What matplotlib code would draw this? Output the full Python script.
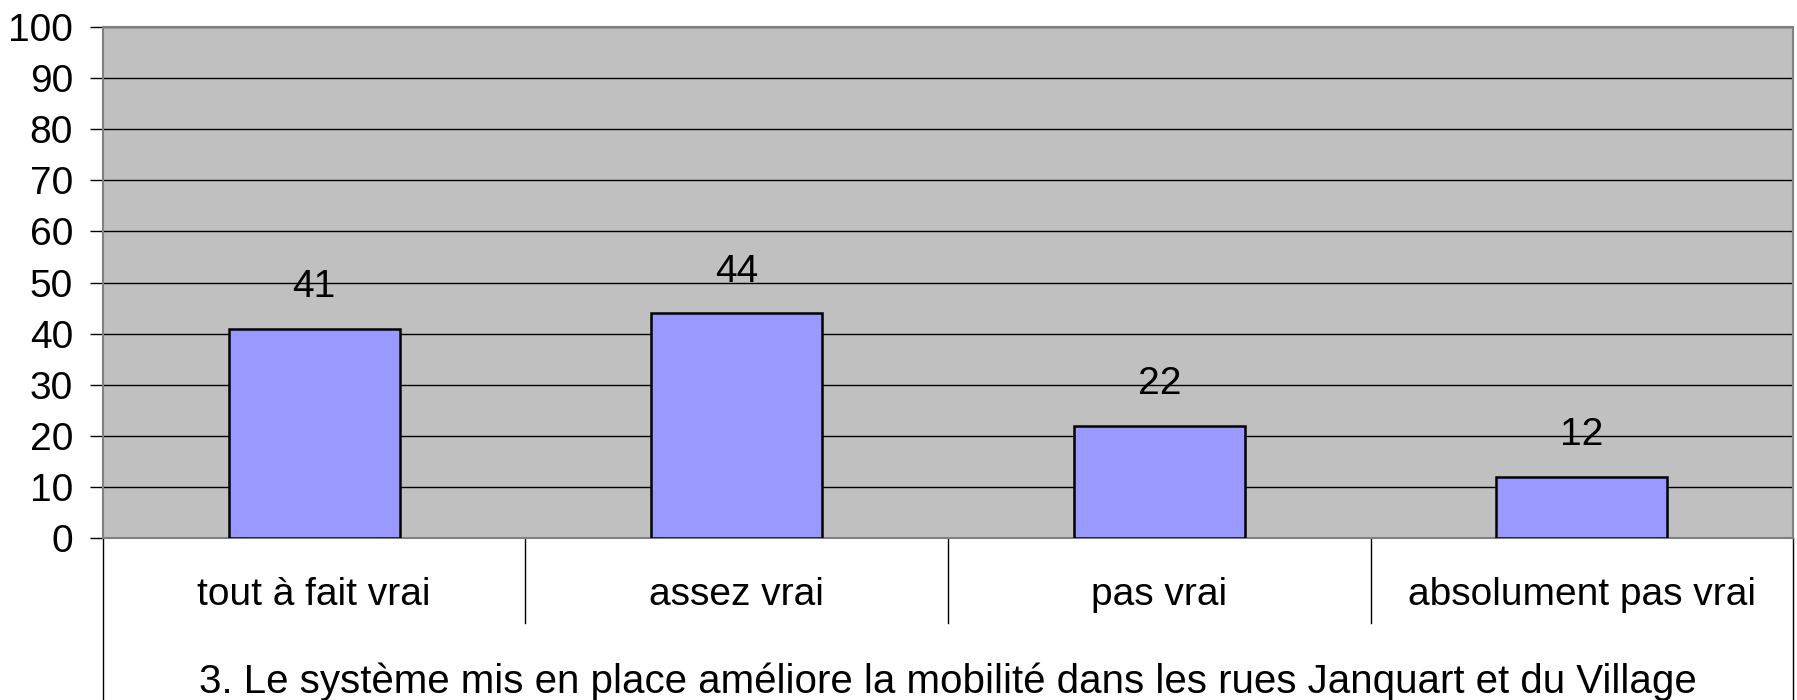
import matplotlib
matplotlib.use("Agg")
import matplotlib.pyplot as plt
import matplotlib.transforms as mtransforms

categories = ["tout à fait vrai", "assez vrai", "pas vrai", "absolument pas vrai"]
values = [41, 44, 22, 12]
title = "3. Le système mis en place améliore la mobilité dans les rues Janquart et du Village"

plt.rcParams['font.family'] = ['Liberation Sans', 'DejaVu Sans']

fig = plt.figure(figsize=(17.97, 7.0), dpi=100)
ax = fig.add_axes([0.0573, 0.2314, 0.9405, 0.73])

ax.set_facecolor('#C0C0C0')
x = list(range(len(categories)))
ax.bar(x, values, width=0.405, color='#9999FF', edgecolor='black', linewidth=1.8, zorder=3)

for xi, v in zip(x, values):
    ax.annotate(str(v), (xi, v), xytext=(0, 30), textcoords='offset points',
                ha='center', va='center', fontsize=28, zorder=4)

ax.set_xlim(-0.5, len(categories) - 0.5)
ax.set_ylim(0, 100)
ax.set_yticks(range(0, 101, 10))
ax.yaxis.grid(True, color='black', linewidth=1.0, zorder=1)
ax.set_axisbelow(True)
ax.tick_params(axis='y', labelsize=28, length=9.5, width=1, pad=12, color='black')
ax.set_xticks([])

for side in ['top', 'right', 'left', 'bottom']:
    ax.spines[side].set_color('#808080')
    ax.spines[side].set_linewidth(1.5)

# category area below the plot
trans = mtransforms.blended_transform_factory(ax.transData, ax.transAxes)
for b in [0.5, 1.5, 2.5]:
    ax.plot([b, b], [0, -0.166], transform=trans, color='black', linewidth=1, clip_on=False)
ax.plot([-0.5, -0.5], [0, -0.32], transform=trans, color='black', linewidth=1, clip_on=False)
ax.plot([3.5, 3.5], [0, -0.32], transform=trans, color='black', linewidth=1, clip_on=False)

for xi, c in zip(x, categories):
    ax.text(xi, -0.111, c, transform=trans, ha='center', va='center', fontsize=28)

ax.text(0.5, -0.282, title, transform=ax.transAxes, ha='center', va='center', fontsize=29)

fig.savefig('out.png', dpi=100)
